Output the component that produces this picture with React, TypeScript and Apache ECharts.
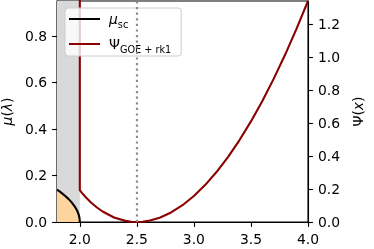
import React, { useEffect, useRef } from "react";
import * as echarts from "echarts";

// semicircle density mu_sc
const muX = [1.8, 1.825, 1.85, 1.875, 1.9, 1.925, 1.95, 1.97, 1.98, 1.99, 1.995, 1.998, 2.0];
const muY = [0.1387, 0.1302, 0.1209, 0.1108, 0.0994, 0.0864, 0.0707, 0.0549, 0.0449, 0.0318, 0.0225, 0.0142, 0];

// Psi_{GOE+rk1}; the first point is the wall (Psi = +inf for x < 2)
const psiX = [2.0, 2.0, 2.01, 2.02, 2.05, 2.1, 2.15, 2.2, 2.3, 2.4, 2.45, 2.5, 2.55, 2.6, 2.7, 2.8, 2.9, 3.0, 3.1, 3.2, 3.3, 3.4, 3.5, 3.6, 3.7, 3.8, 3.9, 4.0];
const psiY = [5, 0.1931, 0.1838, 0.1751, 0.1513, 0.1169, 0.0879, 0.0637, 0.0276, 0.0068, 0.0017, 0, 0.0017, 0.0066, 0.026, 0.0578, 0.1019, 0.1578, 0.2254, 0.3046, 0.3952, 0.497, 0.6101, 0.7342, 0.8694, 1.0155, 1.1725, 1.3403];

const spanX = [1.8, 2.0];
const dottedX = 2.5;

const xTicks = [2.0, 2.5, 3.0, 3.5, 4.0];
const leftTicks = [0, 0.2, 0.4, 0.6, 0.8];
const rightTicks = [0, 0.2, 0.4, 0.6, 0.8, 1.0, 1.2];
const xRange = [1.8, 4.0];
const leftRange = [0, 0.95];
const rightRange = [0, 1.3403];

const FONT = "DejaVu Sans";
const FS = 13.9;

export default function App() {
  const ref = useRef<HTMLDivElement>(null);
  useEffect(() => {
    if (!ref.current) return;
    const chart = echarts.init(ref.current, null, { renderer: "svg" });
    const tickStyle = { color: "#000", width: 1.1 };
    const labelStyle = { color: "#000", fontFamily: FONT, fontSize: FS };
    const rich = {
      m: { fontFamily: FONT, fontSize: FS, color: "#000" },
      i: { fontFamily: FONT, fontSize: FS, fontStyle: "italic", color: "#000" },
      s: { fontFamily: FONT, fontSize: 9.7, color: "#000", padding: [10, 0, 0, 0] },
    };
    chart.setOption({
      animation: false,
      grid: {
        left: 57, right: 66, top: 1, bottom: 27,
        outerBoundsMode: "none",
        containLabel: false,
        show: true, borderColor: "#000", borderWidth: 1.1, backgroundColor: "transparent",
      },
      legend: {
        orient: "vertical",
        left: 65,
        top: 8,
        padding: [4, 10, 2, 4],
        itemGap: 8,
        itemWidth: 31,
        itemHeight: 2,
        icon: "rect",
        backgroundColor: "rgba(255,255,255,0.8)",
        borderColor: "#cccccc",
        borderWidth: 1,
        borderRadius: 3,
        data: ["mu", "psi"],
        formatter: (n: string) => (n === "mu" ? "{i|μ}{s|sc}" : "{m|Ψ}{s|GOE + rk1}"),
        textStyle: { rich, padding: [0, 0, 0, 4] },
      },
      xAxis: {
        type: "value",
        min: xRange[0],
        max: xRange[1],
        axisLine: { show: true, lineStyle: tickStyle },
        axisTick: { show: true, length: 4.9, lineStyle: tickStyle, customValues: xTicks },
        axisLabel: { ...labelStyle, margin: 10, customValues: xTicks, formatter: (v: number) => v.toFixed(1) },
        splitLine: { show: false },
      },
      yAxis: [
        {
          type: "value",
          min: leftRange[0],
          max: leftRange[1],
          position: "left",
          name: "{i|μ}{m|(}{i|λ}{m|)}",
          nameLocation: "middle",
          nameRotate: 90,
          nameGap: 33,
          nameTextStyle: { rich },
          axisLine: { show: true, lineStyle: tickStyle },
          axisTick: { show: true, length: 4.9, lineStyle: tickStyle, customValues: leftTicks },
          axisLabel: { ...labelStyle, margin: 10, customValues: leftTicks, formatter: (v: number) => v.toFixed(1) },
          splitLine: { show: false },
        },
        {
          type: "value",
          min: rightRange[0],
          max: rightRange[1],
          position: "right",
          name: "{m|Ψ(}{i|x}{m|)}",
          nameLocation: "middle",
          nameRotate: 90,
          nameGap: 38,
          nameTextStyle: { rich },
          axisLine: { show: true, lineStyle: tickStyle },
          axisTick: { show: true, length: 4.9, lineStyle: tickStyle, customValues: rightTicks },
          axisLabel: { ...labelStyle, margin: 10, customValues: rightTicks, formatter: (v: number) => v.toFixed(1) },
          splitLine: { show: false },
        },
      ],
      series: [
        {
          name: "bg",
          type: "line",
          data: [],
          z: 1,
          markArea: {
            silent: true,
            itemStyle: { color: "#d9d9d9" },
            data: [[{ xAxis: spanX[0] }, { xAxis: spanX[1] }]],
          },
          markLine: {
            silent: true,
            symbol: "none",
            label: { show: false },
            lineStyle: { color: "#8c8c8c", width: 2.2, type: [2.2, 3.4], cap: "butt", opacity: 1 },
            data: [{ xAxis: dottedX }],
          },
        },
        {
          name: "mu",
          type: "line",
          z: 2,
          showSymbol: false,
          data: muX.map((x, i) => [x, muY[i]]),
          itemStyle: { color: "#000" },
          lineStyle: { color: "#000", width: 2.1 },
          areaStyle: { color: "#fdd49e", opacity: 1 },
        },
        {
          name: "psi",
          type: "line",
          yAxisIndex: 1,
          z: 3,
          showSymbol: false,
          data: psiX.map((x, i) => [x, psiY[i]]),
          itemStyle: { color: "#8b0000" },
          lineStyle: { color: "#8b0000", width: 2.1 },
        },
      ],
    });
    return () => chart.dispose();
  }, []);
  return <div ref={ref} style={{ position: "fixed", left: 0, top: 0, width: 374, height: 249 }} />;
}
